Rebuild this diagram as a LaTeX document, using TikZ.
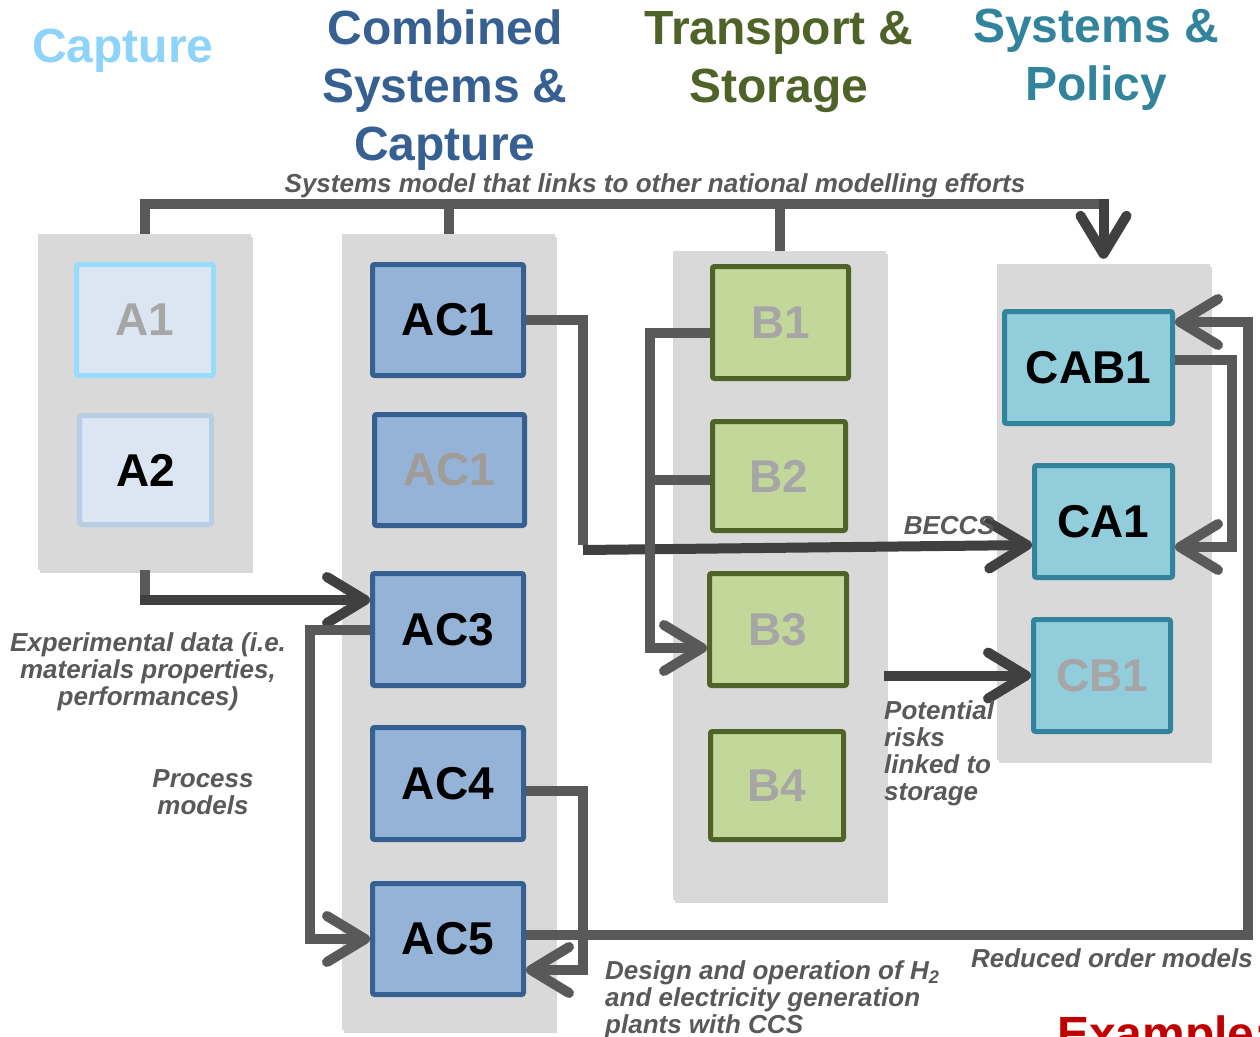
\documentclass[tikz,border=0pt]{standalone}
\usepackage{fontspec}
\setmainfont{Liberation Sans}
\usetikzlibrary{arrows.meta,calc,shadows}
\definecolor{hcap}{HTML}{8DD3FB}
\definecolor{hcomb}{HTML}{376092}
\definecolor{htrans}{HTML}{4F6228}
\definecolor{hsys}{HTML}{31849B}
\definecolor{lgray}{HTML}{595959}
\definecolor{dgray}{HTML}{404040}
\definecolor{pgray}{HTML}{D9D9D9}
\definecolor{faint}{HTML}{A6A6A6}
\definecolor{faintb}{HTML}{A09D99}
\definecolor{afill}{HTML}{DCE6F2}
\definecolor{aoneb}{HTML}{99DBFD}
\definecolor{atwob}{HTML}{B9CDE5}
\definecolor{acfill}{HTML}{95B3D7}
\definecolor{acbord}{HTML}{366092}
\definecolor{bfill}{HTML}{C4D79B}
\definecolor{bbord}{HTML}{4F6228}
\definecolor{cfill}{HTML}{92CDDC}
\definecolor{cbord}{HTML}{31849B}
\definecolor{exred}{HTML}{C00000}
\tikzset{
  panel/.style={fill=pgray, inner sep=0pt, draw=none,
    drop shadow={shadow xshift=2pt, shadow yshift=-3pt, opacity=0.3}},
  box/.style={draw, line width=5pt, rounded corners=2pt, inner sep=0pt,
    font=\fontsize{46}{50}\selectfont\bfseries},
  abox/.style={box, fill=afill},
  acbox/.style={box, fill=acfill, draw=acbord},
  bbox/.style={box, fill=bfill, draw=bbord, text=faint},
  cbox/.style={box, fill=cfill, draw=cbord},
  header/.style={font=\fontsize{48}{58}\selectfont\bfseries, align=center, inner sep=0pt},
  lbl/.style={font=\fontsize{26}{27}\selectfont\bfseries\itshape, text=lgray, inner sep=0pt},
  conn/.style={line width=10pt, draw=lgray},
  dconn/.style={line width=10pt, draw=dgray},
  arr/.style={-{Straight Barb[length=38pt,width=46pt,round]}}
}
\begin{document}
\begin{tikzpicture}[x=1pt,y=-1pt]
\useasboundingbox (0,0) rectangle (1260,1036);
% headers (base = baseline of last line)
\node[header, text=hcap, anchor=base] (HA) at (123,62) {Capture};
\node[header, text=hcomb, anchor=base] (HAC) at (445,160) {Combined\\Systems \&\\Capture};
\node[header, text=htrans, anchor=base] (HB) at (779,102) {Transport \&\\Storage};
\node[header, text=hsys, anchor=base] (HC) at (1096,100) {Systems \&\\Policy};
% panels
\node[panel, minimum width=213pt, minimum height=336pt] (PA) at (144.5,402) {};
\node[panel, minimum width=213pt, minimum height=796pt] (PAC) at (448.5,632) {};
\node[panel, minimum width=213pt, minimum height=649pt] (PB) at (779.5,575.5) {};
\node[panel, minimum width=213pt, minimum height=496pt] (PC) at (1103.5,512) {};
% boxes
\node[abox, draw=aoneb, text=faint, minimum width=137pt, minimum height=111pt] (A1) at (145,320) {A1};
\node[abox, draw=atwob, minimum width=132pt, minimum height=109pt] (A2) at (145.5,470) {A2};
\node[acbox, minimum width=151pt, minimum height=111pt] (AC1) at (448,320) {AC1};
\node[acbox, text=faintb, minimum width=150pt, minimum height=111pt] (AC1b) at (449.5,470) {AC1};
\node[acbox, minimum width=151pt, minimum height=112pt] (AC3) at (448,629.5) {AC3};
\node[acbox, minimum width=151pt, minimum height=112pt] (AC4) at (448,783.5) {AC4};
\node[acbox, minimum width=151pt, minimum height=111pt] (AC5) at (448,939) {AC5};
\node[bbox, minimum width=136pt, minimum height=112pt] (B1) at (780.5,322.5) {B1};
\node[bbox, minimum width=133pt, minimum height=109pt] (B2) at (779,476) {B2};
\node[bbox, minimum width=137pt, minimum height=112pt] (B3) at (778,629.5) {B3};
\node[bbox, minimum width=133pt, minimum height=108pt] (B4) at (777,785.5) {B4};
\node[cbox, minimum width=168pt, minimum height=112pt] (CAB1) at (1088.5,367.5) {CAB1};
\node[cbox, minimum width=138pt, minimum height=112pt] (CA1) at (1103.5,521.5) {CA1};
\node[cbox, text=faint, minimum width=137pt, minimum height=112pt] (CB1) at (1102,675.5) {CB1};
% top bus
\coordinate (bus) at (0,204);
\draw[conn] (PA.north) -- (PA.north |- bus) -- (PC.north |- bus);
\draw[conn] (PAC.north) -- (PAC.north |- bus);
\draw[conn] (PB.north) -- (PB.north |- bus);
\draw[dconn, arr] ($(PC.north |- bus)+(0,-5)$) -- ($(PC.north)+(0,-5)$);
% BECCS
\coordinate (becc) at ($(AC1.east)+(57,225)$);
\draw[conn] (AC1.east) -| (becc);
\draw[dconn, arr] ($(becc)+(0,5)$) -- (becc -| CA1.west);
% B1/B2 -> B3
\coordinate (bv) at ($(B3.west)+(-57,18.5)$);
\draw[conn, arr] ($(B1.west)+(0,10)$) -| (bv) -- ($(B3.west)+(0,18.5)$);
\draw[conn] ($(B2.west)+(0,4)$) -- ($(B2.west -| bv)+(-5,4)$);
% B3 -> CB1
\draw[dconn, arr] ($(PB.east |- CB1.west)+(-2,0)$) -- (CB1.west);
% A -> AC3
\coordinate (av) at ($(AC3.west)+(0,-29.5)$);
\draw[conn] (PA.south) -- (PA.south |- av);
\draw[dconn, arr] ($(PA.south |- av)+(-5,0)$) -- (av);
% AC3 -> AC5
\draw[conn, arr] (AC3.west) -- ++(-60,0) |- (AC5.west);
% AC4 -> AC5
\draw[conn, arr] ($(AC4.east)+(0,7.5)$) -| ($(AC5.east)+(57,31)$) -- ($(AC5.east)+(0,31)$);
% AC5 -> CAB1
\draw[conn, arr] ($(AC5.east)+(0,-4)$) -| ($(CAB1.east)+(73,-45.5)$) -- ($(CAB1.east)+(0,-45.5)$);
% CAB1 -> CA1
\draw[conn, arr] ($(CAB1.east)+(0,-7.5)$) -| ($(CA1.east)+(57,25.5)$) -- ($(CA1.east)+(0,25.5)$);
% labels (base = baseline of last line)
\node[lbl, anchor=base] (Lsys) at (655,192) {Systems model that links to other national modelling efforts};
\node[lbl, anchor=base east] (Lbeccs) at (995,534) {BECCS};
\node[lbl, align=left, anchor=base west] (Lrisk) at (884,800) {Potential\\risks\\linked to\\storage};
\node[lbl, align=center, anchor=base] (Lexp) at (148,705) {Experimental data (i.e.\\materials properties,\\performances)};
\node[lbl, align=center, anchor=base] (Lproc) at (203,814) {Process\\models};
\node[lbl, align=left, anchor=base west] (Ldes) at (605,1033) {Design and operation of H\textsubscript{2}\\and electricity generation\\plants with CCS};
\node[lbl, anchor=base east] (Lred) at (1253,967) {Reduced order models};
\node[font=\fontsize{48}{54}\selectfont\bfseries, text=exred, inner sep=0pt, anchor=base west] (Ex) at (1057,1050) {Example:};
\end{tikzpicture}
\end{document}
